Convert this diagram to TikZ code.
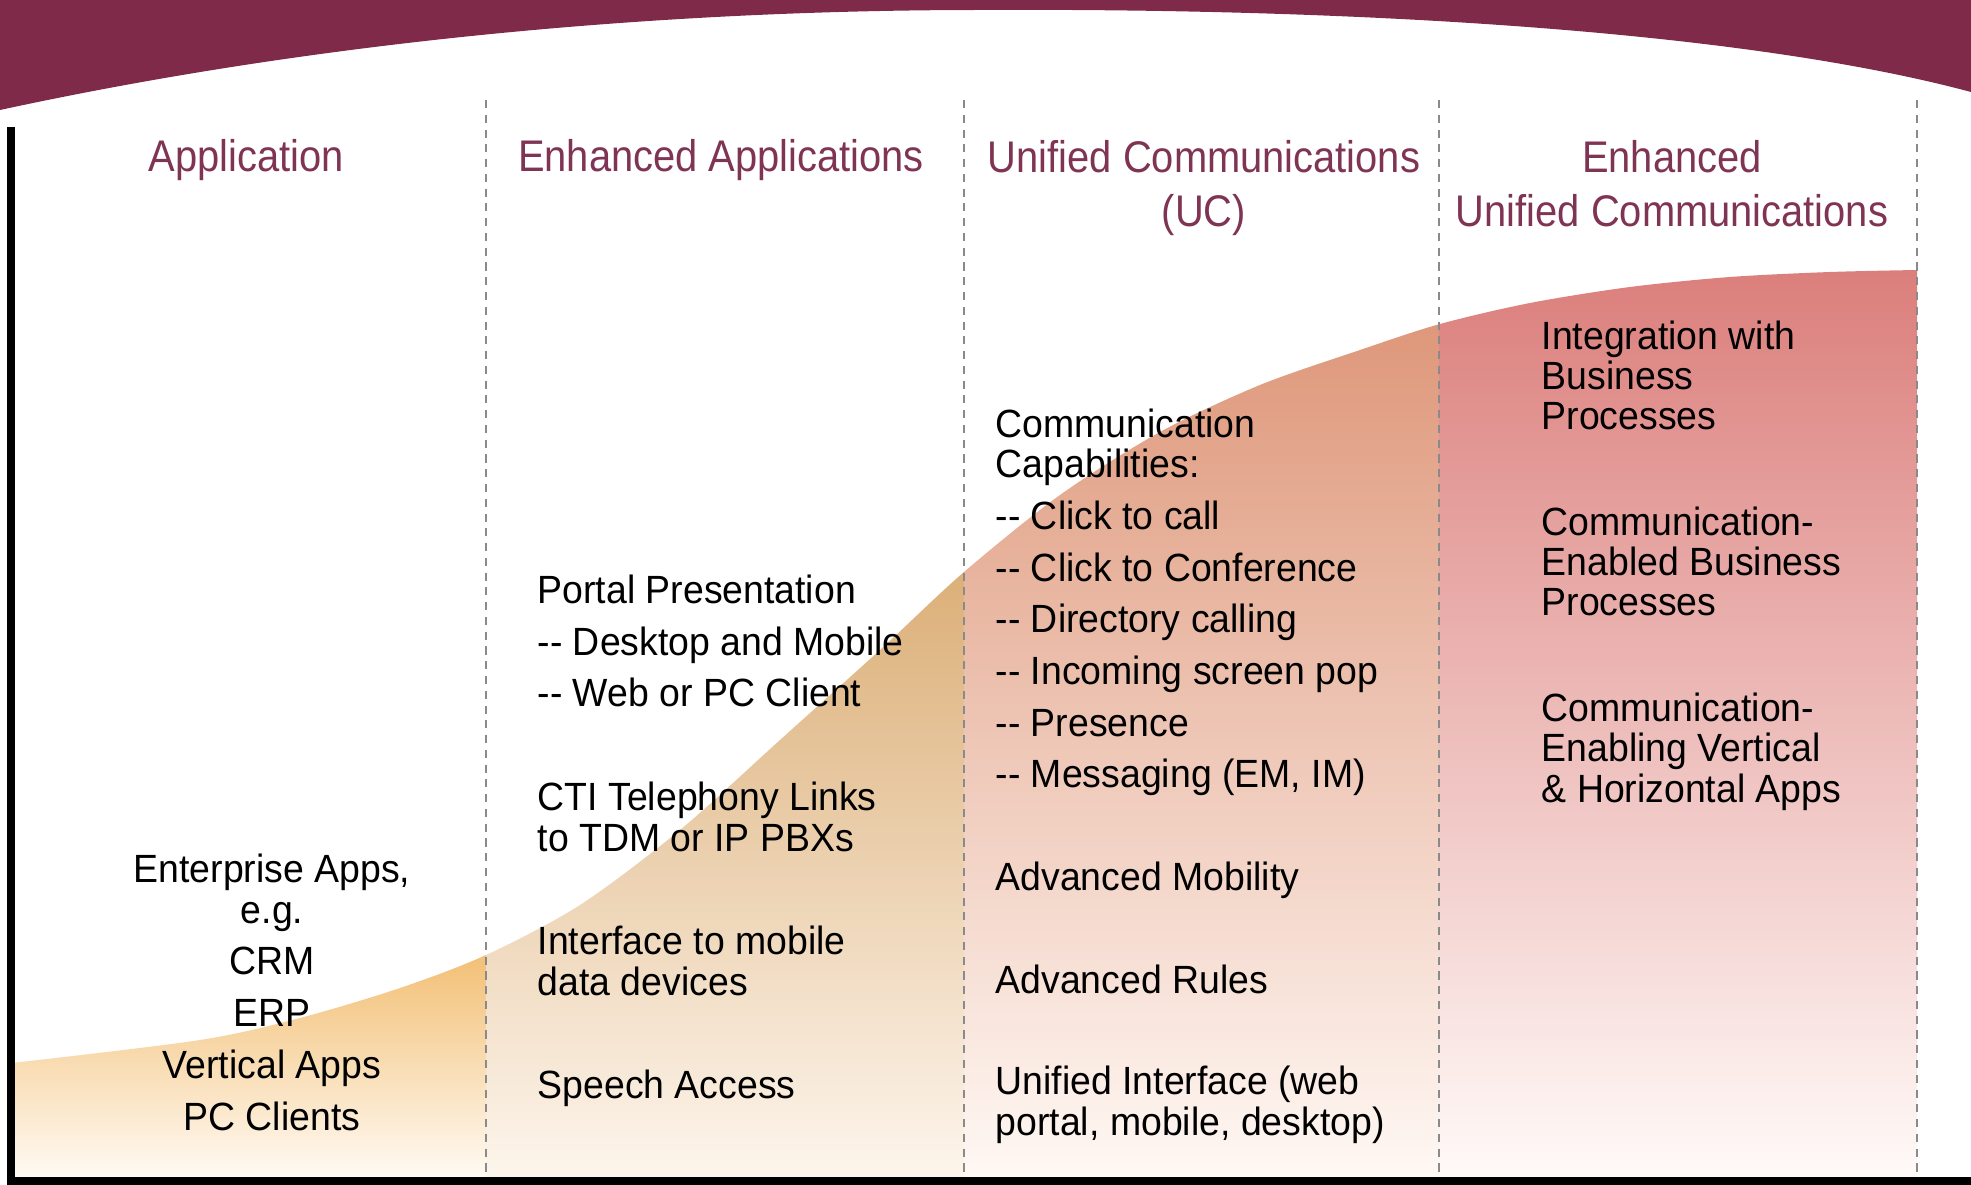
\documentclass[tikz,border=0pt]{standalone}
\usepackage{fontspec}
\setmainfont{Liberation Sans}[FakeStretch=0.95]
\newfontfamily\headfont{Liberation Sans}[FakeStretch=0.9]
\usetikzlibrary{scopes}
\definecolor{bandred}{RGB}{126,42,72}
\definecolor{headred}{RGB}{128,52,84}
\definecolor{lanegray}{RGB}{138,138,138}
\definecolor{appTop}{RGB}{242,189,112}
\definecolor{appBot}{RGB}{255,250,243}
\definecolor{enhTop}{RGB}{219,174,118}
\definecolor{enhBot}{RGB}{253,245,236}
\definecolor{ucTop}{RGB}{222,151,122}
\definecolor{ucMid}{RGB}{238,196,174}
\definecolor{ucBot}{RGB}{255,248,244}
\definecolor{eucTop}{RGB}{219,126,123}
\definecolor{eucMid}{RGB}{236,187,174}
\definecolor{eucBot}{RGB}{255,250,248}
\begin{document}
\begin{tikzpicture}[x=0.01cm,y=-0.01cm,
  colhead/.style={font=\headfont\fontsize{12.6}{15.6}\selectfont,text=headred,
    align=center,anchor=base,inner sep=0pt},
  item/.style={font=\fontsize{11.2}{11.5}\selectfont,align=left,anchor=base west,inner sep=0pt},
  lane/.style={draw=lanegray,line width=0.55pt,dash pattern=on 2.3pt off 1.9pt}]
  \useasboundingbox (0,0) rectangle (1971,1185);
  \fill[bandred] (0,0) -- (0,110) .. controls (300,45) and (640,10) .. (980,10)
    .. controls (1350,8) and (1740,30) .. (1971,92) -- (1971,0) -- cycle;
  { [ ]
    \clip plot[smooth] coordinates {(12,1063) (200,1040) (300,1018) (400,988) (486,955)
      (580,905) (680,830) (780,740) (880,650) (964,572) (1060,495) (1160,432) (1260,385)
      (1360,350) (1440,324) (1530,303) (1630,287) (1730,277) (1830,272) (1917,270)}
      -- (1917,1177) -- (12,1177) -- cycle;
    \shade[top color=appTop,bottom color=appBot] (12,945) rectangle (486,1177);
    \shade[top color=enhTop,bottom color=enhBot] (486,560) rectangle (964,1177);
    \shade[top color=ucTop,middle color=ucMid,bottom color=ucBot] (964,320) rectangle (1439,1177);
    \shade[top color=eucTop,middle color=eucMid,bottom color=eucBot] (1439,265) rectangle (1917,1177);
  }
  \foreach \x in {486,964,1439,1917}
    \draw[lane] (\x,100) -- (\x,1172);
  \draw[line width=2.2pt] (11,127) -- (11,1181) -- (1971,1181);
  % multi-line nodes sit on the baseline of their last line
  \node[colhead] (hApp) at (246,172) {Application};
  \node[colhead] (hEnh) at (721,172) {Enhanced Applications};
  \node[colhead] (hUC) at (1204,227) {Unified Communications\\(UC)};
  \node[colhead] (hEUC) at (1672,227) {Enhanced\\Unified Communications};
  { [every node/.style={item}]
    \node[align=center,anchor=base] (apps) at (272,1130)
      {Enterprise Apps,\\e.g.\\[3.2pt]CRM\\[3.2pt]ERP\\[3.2pt]Vertical Apps\\[3.2pt]PC Clients};
    \node (portal) at (537,707)
      {Portal Presentation\\[3.2pt]-{}- Desktop and Mobile\\[3.2pt]-{}- Web or PC Client};
    \node (cti) at (537,851) {CTI Telephony Links\\to TDM or IP PBXs};
    \node (mobdata) at (537,995) {Interface to mobile\\data devices};
    \node (speech) at (537,1098) {Speech Access};
    \node (caps) at (995,788)
      {Communication\\Capabilities:\\[3.2pt]-{}- Click to call\\[3.2pt]-{}- Click to Conference
       \\[3.2pt]-{}- Directory calling\\[3.2pt]-{}- Incoming screen pop\\[3.2pt]-{}- Presence
       \\[3.2pt]-{}- Messaging (EM, IM)};
    \node (advmob) at (995,890) {Advanced Mobility};
    \node (advrules) at (995,994) {Advanced Rules};
    \node (uniface) at (995,1135) {Unified Interface (web\\portal, mobile, desktop)};
    \node (integ) at (1541,430) {Integration with\\Business\\Processes};
    \node (cebp) at (1541,616) {Communication-\\Enabled Business\\Processes};
    \node (cevh) at (1541,802) {Communication-\\Enabling Vertical\\\& Horizontal Apps};
  }
\end{tikzpicture}
\end{document}
